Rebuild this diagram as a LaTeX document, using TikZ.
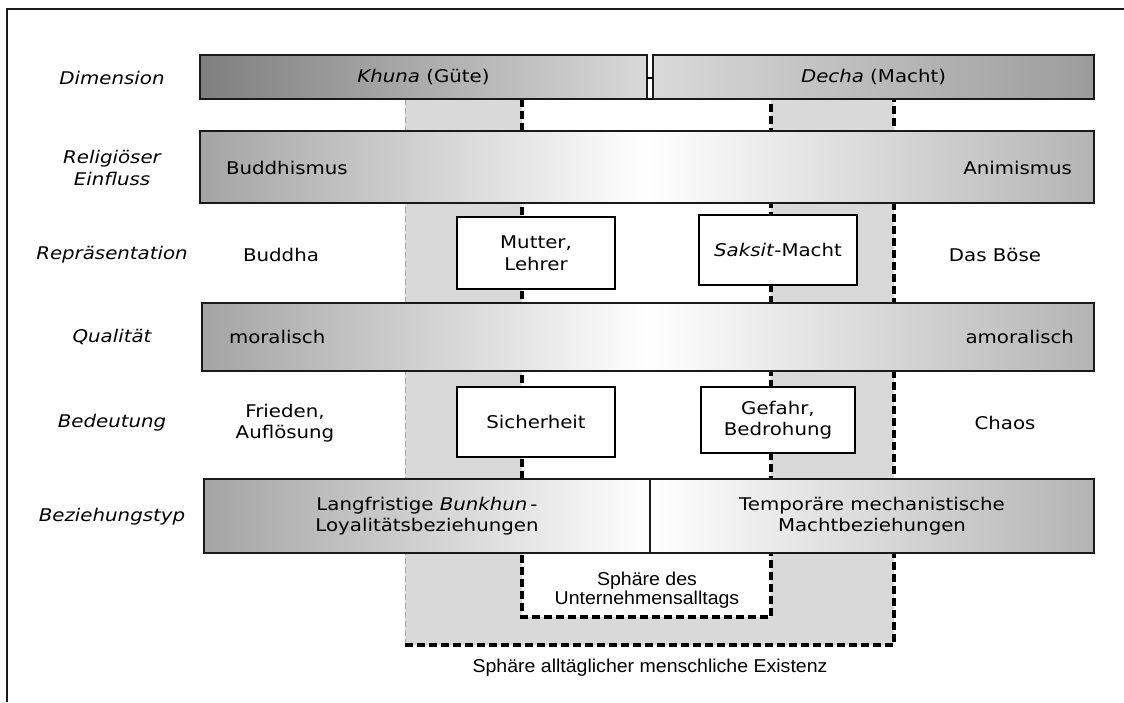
\documentclass[tikz,border=0pt]{standalone}
\usepackage{fontspec}
\setmainfont{DejaVu Sans}[FakeStretch=1.13]
\newfontfamily\arialf{Liberation Sans}[FakeStretch=1.05]
\definecolor{zone}{HTML}{D9D9D9}
\definecolor{dk}{HTML}{7F7F7F}
\definecolor{dkr}{HTML}{9C9C9C}
\definecolor{mg}{HTML}{A4A4A4}
\definecolor{mgr}{HTML}{B4B4B4}
\definecolor{edge}{HTML}{1A1A1A}
\begin{document}
\begin{tikzpicture}[x=1pt,y=-1pt,
  every node/.style={font=\fontsize{17.5}{21.5}\selectfont, inner sep=0pt, outer sep=0pt},
  lab/.style={font=\fontsize{17.5}{21.5}\selectfont\itshape, align=center},
  bar/.style={draw=edge, line width=1.2pt, rectangle, inner sep=0pt, anchor=north west},
  wbox/.style={draw=black, line width=1.5pt, fill=white, rectangle, align=center},
  txt/.style={align=center},
  sph/.style={font=\arialf\fontsize{18.6}{19.5}\selectfont, align=center},
  bigdash/.style={line width=3.2pt, dash pattern=on 8pt off 4pt, black},
  thindash/.style={line width=0.8pt, dash pattern=on 6pt off 3pt, black!35}]

\useasboundingbox (0,0) rectangle (1124,702);
\draw[line width=1.3pt, edge] (7,702) -- (7,9) -- (1124,9);

% spheres
\fill[zone] (405,99) rectangle (894,645);
\fill[white] (522,99) rectangle (771,617);
\draw[thindash] (405,99) -- (405,645);
\draw[bigdash] (405,645) -- (894,645) -- (894,99);
\draw[bigdash] (522,99) -- (522,617) -- (771,617) -- (771,99);

% dimension row
\node[bar, minimum width=447, minimum height=44, left color=dk, right color=zone] (khuna) at (200,55) {\textit{Khuna} (Güte)};
\node[bar, minimum width=441, minimum height=44, left color=zone, right color=dkr] (decha) at (653,55) {\textit{Decha} (Macht)};
\draw[line width=1.6pt] ([yshift=-1pt]khuna.east) -- ([yshift=-1pt]decha.west);
\draw[line width=1.6pt] (khuna.south east) -- (decha.south west);

% religious row
\node[bar, minimum width=894, minimum height=72, left color=mg, right color=mgr, middle color=white] (rel) at (200,131) {};
\node[anchor=west] (buddhismus) at (226,168) {Buddhismus};
\node[anchor=east] (animismus) at (1072,168) {Animismus};

% quality row
\node[bar, minimum width=892, minimum height=68, left color=mg, right color=mgr, middle color=white] (qual) at (202,303) {};
\node[anchor=west] (moral) at (229,337) {moralisch};
\node[anchor=east] (amoral) at (1074,337) {amoralisch};

% relation row
\node[bar, minimum width=446, minimum height=74, left color=mg, right color=white, align=center] (bunkhun) at (204,479) {Langfristige \textit{Bunkhun}\,-\\Loyalitätsbeziehungen};
\node[bar, minimum width=444, minimum height=74, left color=white, right color=mgr, align=center] (temp) at (650,479) {Temporäre mechanistische\\Machtbeziehungen};

% boxes
\node[wbox, minimum width=158, minimum height=72] (mutter) at (536,253) {Mutter,\\Lehrer};
\node[wbox, minimum width=158, minimum height=70] (saksit) at (778,250) {\textit{Saksit}-Macht};
\node[wbox, minimum width=158, minimum height=70] (sicher) at (536,422) {Sicherheit};
\node[wbox, minimum width=154, minimum height=66] (gefahr) at (778,420) {Gefahr,\\Bedrohung};

% side texts
\node[txt] (buddha) at (281,255) {Buddha};
\node[txt] (boese) at (995,255) {Das Böse};
\node[txt] (frieden) at (285,423) {Frieden,\\Auflösung};
\node[txt] (chaos) at (1005,423) {Chaos};

% row labels
\node[lab] (l1) at (112,78) {Dimension};
\node[lab] (l2) at (112,168) {Religiöser\\Einfluss};
\node[lab] (l3) at (112,255) {Repräsentation};
\node[lab] (l4) at (112,337) {Qualität};
\node[lab] (l5) at (112,423) {Bedeutung};
\node[lab] (l6) at (112,517) {Beziehungstyp};

% sphere labels
\node[sph] (inner) at (647,590) {Sphäre des\\Unternehmensalltags};
\node[sph] (outer) at (650,668) {Sphäre alltäglicher menschliche Existenz};
\end{tikzpicture}
\end{document}
